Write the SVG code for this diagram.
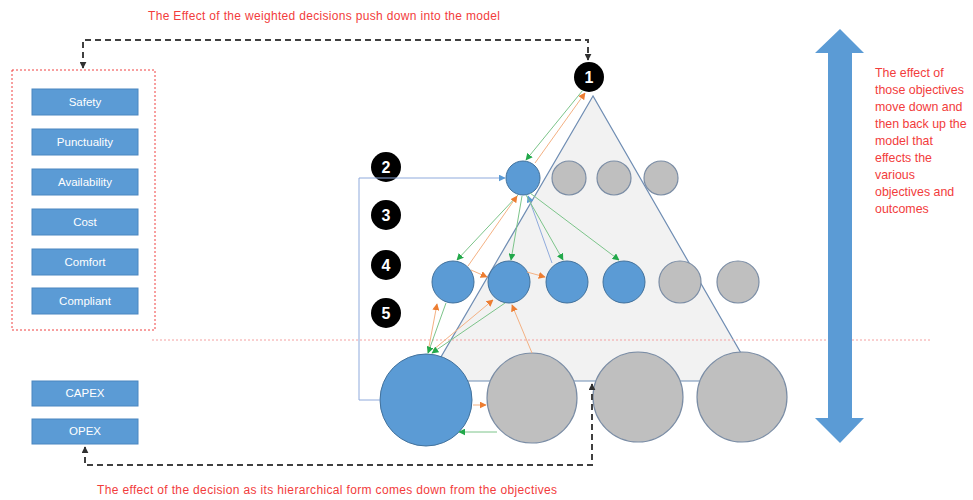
<svg xmlns="http://www.w3.org/2000/svg" width="973" height="500" viewBox="0 0 973 500">
<defs>
<style>
.red{fill:#f23c3c;font-family:"Liberation Sans",Arial,sans-serif;font-size:12px}
.side{font-size:12.4px}
.btn rect{fill:#5b9bd5;stroke:#4a86c0;stroke-width:1}
.btn text{fill:#fff;font-family:"Liberation Sans",Arial,sans-serif;font-size:11.5px;text-anchor:middle}
.num circle{fill:#000}
.num text{fill:#fff;font-family:"Liberation Sans",Arial,sans-serif;font-size:16px;font-weight:bold;text-anchor:middle}
.blue{fill:#5b9bd5;stroke:#41719c;stroke-width:1}
.gray{fill:#bfbfbf;stroke:#7b8da5;stroke-width:1.2}
.g{stroke:#7cc48a;stroke-width:1;fill:none;marker-end:url(#mg)}
.o{stroke:#f4b183;stroke-width:1;fill:none;marker-end:url(#mo)}
.b{stroke:#8faadc;stroke-width:1;fill:none;marker-end:url(#mb)}
.dash{stroke:#404040;stroke-width:2;fill:none;stroke-dasharray:6 4;marker-start:url(#mk);marker-end:url(#mk)}
</style>
<marker id="mg" viewBox="0 0 10 10" refX="9" refY="5" markerWidth="7" markerHeight="7" markerUnits="userSpaceOnUse" orient="auto"><path d="M0,0 L10,5 L0,10 z" fill="#22a84a"/></marker>
<marker id="mo" viewBox="0 0 10 10" refX="9" refY="5" markerWidth="7" markerHeight="7" markerUnits="userSpaceOnUse" orient="auto"><path d="M0,0 L10,5 L0,10 z" fill="#ed7d31"/></marker>
<marker id="mb" viewBox="0 0 10 10" refX="9" refY="5" markerWidth="7" markerHeight="7" markerUnits="userSpaceOnUse" orient="auto"><path d="M0,0 L10,5 L0,10 z" fill="#5b9bd5"/></marker>
<marker id="mk" viewBox="0 0 10 10" refX="9" refY="5" markerWidth="7" markerHeight="7" markerUnits="userSpaceOnUse" orient="auto-start-reverse"><path d="M0,0 L10,5 L0,10 z" fill="#303030"/></marker>
</defs>
<rect width="973" height="500" fill="#fff"/>

<text class="red" x="148" y="20" textLength="352">The Effect of the weighted decisions push down into the model</text>
<text class="red" x="97" y="494" textLength="460">The effect of the decision as its hierarchical form comes down from the objectives</text>
<text class="red side" x="875" y="77"><tspan x="875">The effect of</tspan><tspan x="875" dy="17">those objectives</tspan><tspan x="875" dy="17">move down and</tspan><tspan x="875" dy="17">then back up the</tspan><tspan x="875" dy="17">model that</tspan><tspan x="875" dy="17">effects the</tspan><tspan x="875" dy="17">various</tspan><tspan x="875" dy="17">objectives and</tspan><tspan x="875" dy="17">outcomes</tspan></text>

<g id="objectives">
<rect x="12" y="70" width="143" height="260" fill="none" stroke="#f04040" stroke-width="1" stroke-dasharray="2 2"/>
<g id="safety" class="btn"><rect x="32" y="89" width="106" height="26"/><text x="85" y="106">Safety</text></g>
<g id="punctuality" class="btn"><rect x="32" y="129" width="106" height="26"/><text x="85" y="146">Punctuality</text></g>
<g id="availability" class="btn"><rect x="32" y="169" width="106" height="26"/><text x="85" y="186">Availability</text></g>
<g id="cost" class="btn"><rect x="32" y="209" width="106" height="26"/><text x="85" y="226">Cost</text></g>
<g id="comfort" class="btn"><rect x="32" y="249" width="106" height="26"/><text x="85" y="266">Comfort</text></g>
<g id="compliant" class="btn"><rect x="32" y="288" width="106" height="26"/><text x="85" y="305">Compliant</text></g>
</g>
<g id="capex" class="btn"><rect x="32" y="381" width="106" height="25"/><text x="85" y="397">CAPEX</text></g>
<g id="opex" class="btn"><rect x="32" y="419" width="106" height="25"/><text x="85" y="435">OPEX</text></g>

<g id="pyramid"><polygon points="593,96 427,381 757,381" fill="#f2f2f2" stroke="#6f8db3" stroke-width="1.2"/></g>
<line x1="152" y1="340" x2="930" y2="340" stroke="#f4a0a0" stroke-width="1" stroke-dasharray="2 2"/>

<g id="double-arrow"><polygon points="840,29 864,53 852,53 852,418 864,418 840,443 815,418 828,418 828,53 815,53" fill="#5b9bd5"/></g>

<g id="n1" class="num"><circle cx="589" cy="77" r="15"/><text x="589" y="83">1</text></g>
<g id="n2" class="num"><circle cx="386" cy="167" r="15"/><text x="386" y="173">2</text></g>
<g id="n3" class="num"><circle cx="386" cy="215" r="15"/><text x="386" y="221">3</text></g>
<g id="n4" class="num"><circle cx="386" cy="265" r="15"/><text x="386" y="271">4</text></g>
<g id="n5" class="num"><circle cx="386" cy="313" r="15"/><text x="386" y="319">5</text></g>

<g id="top-row">
<circle id="t1" class="blue" cx="523" cy="178" r="17"/>
<circle id="t2" class="gray" cx="569" cy="178" r="17"/>
<circle id="t3" class="gray" cx="614" cy="178" r="17"/>
<circle id="t4" class="gray" cx="661" cy="178" r="17"/>
</g>
<g id="mid-row">
<circle id="m1" class="blue" cx="453" cy="282" r="21"/>
<circle id="m2" class="blue" cx="509" cy="282" r="21"/>
<circle id="m3" class="blue" cx="567" cy="282" r="21"/>
<circle id="m4" class="blue" cx="624" cy="282" r="21"/>
<circle id="m5" class="gray" cx="680" cy="282" r="21"/>
<circle id="m6" class="gray" cx="738" cy="282" r="21"/>
</g>
<g id="bottom-row">
<circle id="b1" class="blue" cx="426" cy="400" r="46"/>
<circle id="b2" class="gray" cx="532" cy="398" r="45"/>
<circle id="b3" class="gray" cx="638" cy="397" r="45"/>
<circle id="b4" class="gray" cx="742" cy="397" r="45"/>
</g>

<g id="connectors">
<path class="dash" d="M83,68 V40 H588 V60"/>
<path class="dash" d="M85,447 V465 H592 V384"/>
<path class="b" d="M380,400 H359 V178 H505" stroke="#a9c6ea"/>
<line class="g" x1="583" y1="90" x2="526" y2="160"/>
<line class="o" x1="535" y1="163" x2="585" y2="93"/>
<line class="g" x1="518" y1="195" x2="457" y2="260"/>
<line class="o" x1="468" y1="266" x2="517" y2="196"/>
<line class="g" x1="522" y1="196" x2="511" y2="260"/>
<line class="b" x1="552" y1="263" x2="528" y2="196"/>
<line class="g" x1="526" y1="195" x2="563" y2="260"/>
<line class="g" x1="530" y1="193" x2="619" y2="260"/>
<line class="o" x1="471" y1="270" x2="487" y2="277"/>
<line class="o" x1="527" y1="272" x2="545" y2="277"/>
<line class="o" x1="428" y1="352" x2="437" y2="304"/>
<line class="g" x1="446" y1="303" x2="428" y2="353"/>
<line class="o" x1="433" y1="350" x2="493" y2="300"/>
<line class="g" x1="505" y1="303" x2="432" y2="353"/>
<line class="o" x1="532" y1="353" x2="512" y2="305"/>
<line class="o" x1="473" y1="405" x2="486" y2="405"/>
<line class="g" x1="497" y1="432" x2="459" y2="432"/>
</g>
</svg>
